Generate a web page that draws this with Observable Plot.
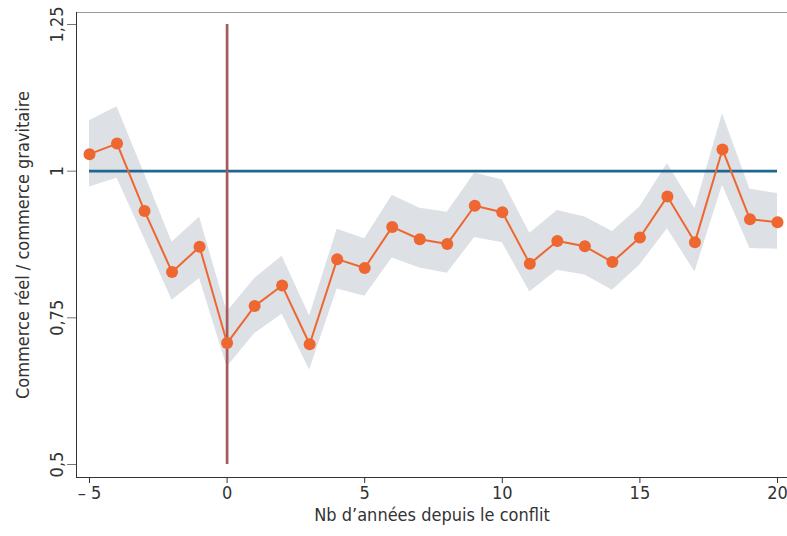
<!DOCTYPE html>
<html>
<head>
<meta charset="utf-8">
<script src="https://cdn.jsdelivr.net/npm/d3@7"></script>
<script src="https://cdn.jsdelivr.net/npm/@observablehq/plot@0.6"></script>
<style>
  html, body { margin: 0; padding: 0; background: #fff; }
</style>
</head>
<body>
<div id="chart"></div>
<script>
const years = [-5,-4,-3,-2,-1,0,1,2,3,4,5,6,7,8,9,10,11,12,13,14,15,16,17,18,19,20];
const ratio = [1.029,1.047,0.932,0.828,0.871,0.707,0.770,0.805,0.705,0.850,0.835,0.905,0.884,0.876,0.941,0.930,0.842,0.881,0.872,0.845,0.887,0.957,0.879,1.037,0.918,0.913];
const upper = [1.086,1.110,0.995,0.879,0.922,0.760,0.817,0.855,0.753,0.901,0.885,0.959,0.937,0.930,0.997,0.985,0.894,0.933,0.922,0.897,0.939,1.013,0.936,1.098,0.969,0.962];
const lower = [0.973,0.988,0.885,0.780,0.817,0.666,0.723,0.756,0.661,0.799,0.787,0.852,0.835,0.826,0.887,0.878,0.794,0.831,0.823,0.797,0.840,0.902,0.828,0.976,0.868,0.867];

const xTicks = [-5,0,5,10,15,20];
const xTickLabels = ["– 5","0","5","10","15","20"];
const yTicks = [0.5,0.75,1,1.25];
const yTickLabels = ["0,5","0,75","1","1,25"];
const xTitle = "Nb d’années depuis le conflit";
const yTitle = "Commerce réel / commerce gravitaire";
const refY = 1;
const refX = 0;

const data = years.map((yr, i) => ({year: yr, value: ratio[i], lo: lower[i], hi: upper[i]}));

const orange = "#ee6630";
const chart = Plot.plot({
  width: 787,
  height: 536,
  marginLeft: 76,
  marginRight: 0,
  marginTop: 12,
  marginBottom: 59,
  x: {domain: [-5, 20], insetLeft: 13, insetRight: 10},
  y: {domain: [0.5, 1.25], insetTop: 12, insetBottom: 13},
  style: {
    fontFamily: "'Liberation Sans Narrow', 'DejaVu Sans Condensed', 'DejaVu Sans', sans-serif",
    fontStretch: "condensed",
    fontSize: "18px",
    color: "#333",
    background: "#fff"
  },
  marks: [
    Plot.areaY(data, {x: "year", y1: "lo", y2: "hi", fill: "#dde0e5"}),
    Plot.ruleY([refY], {x1: years[0], x2: years[years.length - 1], stroke: "#1f6690", strokeWidth: 2.7}),
    Plot.ruleX([refX], {y1: yTicks[0], y2: yTicks[yTicks.length - 1], stroke: "#a65b5b", strokeWidth: 2.7}),
    Plot.line(data, {x: "year", y: "value", stroke: orange, strokeWidth: 2}),
    Plot.dot(data, {x: "year", y: "value", r: 6, fill: orange}),
    Plot.frame({anchor: "top", stroke: "#999"}),
    Plot.frame({anchor: "left", stroke: "#333"}),
    Plot.frame({anchor: "bottom", stroke: "#333"}),
    Plot.axisX({ticks: xTicks, tickFormat: d => xTickLabels[xTicks.indexOf(d)], tickSize: 6, tickPadding: 3, label: null, stroke: "#333", fontSize: 18}),
    Plot.axisY({ticks: yTicks, tickSize: 9, tickFormat: () => "", label: null, stroke: "#777"}),
    Plot.text(yTicks, {y: d => d, text: d => yTickLabels[yTicks.indexOf(d)], frameAnchor: "left", rotate: -90, lineAnchor: "bottom", textAnchor: "middle", dx: -14, fontSize: 18, fill: "#333"}),
    Plot.text([xTitle], {text: d => d, frameAnchor: "bottom", lineAnchor: "middle", dy: 38, fontSize: 18, fill: "#333"}),
    Plot.text([yTitle], {text: d => d, frameAnchor: "left", rotate: -90, lineAnchor: "bottom", textAnchor: "middle", dx: -48, fontSize: 18, fill: "#333"})
  ]
});
document.getElementById("chart").appendChild(chart);
</script>
</body>
</html>
